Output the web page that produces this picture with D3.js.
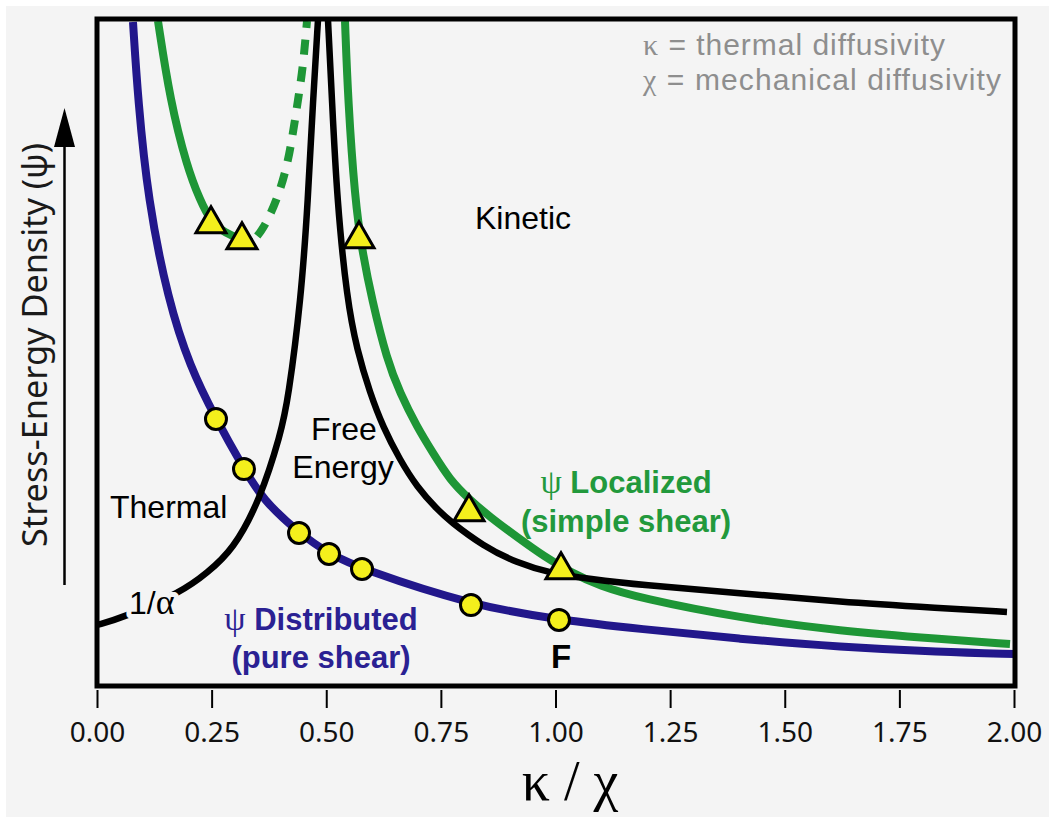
<!DOCTYPE html>
<html><head><meta charset="utf-8">
<script src="https://cdn.jsdelivr.net/npm/d3@7"></script>
<style>body{margin:0;background:#fff}svg{display:block}</style>
</head><body>
<svg id="chart" width="1049" height="818"></svg>
<script>
// ---- data (x = kappa/chi, y = stress-energy density psi, arbitrary units 0..10) ----
const xTicks = [0, 0.25, 0.5, 0.75, 1, 1.25, 1.5, 1.75, 2];
const xTickLabels = ["0.00","0.25","0.50","0.75","1.00","1.25","1.50","1.75","2.00"];

const distributedCurve = [
  [0.0785,9.955],[0.0894,8.786],[0.1112,7.286],[0.1549,5.787],[0.2028,4.783],
  [0.2595,4.003],[0.3206,3.253],[0.3621,2.789],[0.4406,2.294],[0.5060,1.979],
  [0.5780,1.754],[0.8157,1.214],[1.0076,0.990],[1.1843,0.855],[1.4024,0.705],
  [1.6205,0.585],[1.8386,0.510],[2.0022,0.480]
];
const distributedPoints = [
  [0.2595,4.003],[0.3206,3.253],[0.4406,2.294],[0.5060,1.979],
  [0.5780,1.754],[0.8157,1.214],[1.0076,0.990]
];
const localizedLeft = [
  [0.1330,9.970],[0.1592,8.786],[0.1963,7.781],[0.2246,7.286],[0.2486,6.957],
  [0.2792,6.792],[0.3162,6.687],[0.3381,6.657]
];
const localizedDashed = [
  [0.3381,6.657],[0.3621,6.837],[0.3926,7.286],[0.4144,7.781],[0.4275,8.291],
  [0.4384,8.786],[0.4493,9.280],[0.4580,9.970]
];
const localizedRight = [
  [0.5409,9.970],[0.5474,8.786],[0.5627,7.286],[0.5780,6.537],[0.5998,5.787],
  [0.6325,4.888],[0.6609,4.393],[0.6979,3.883],[0.7328,3.493],[0.7699,3.088],
  [0.8113,2.804],[0.8571,2.534],[0.9160,2.234],[0.9771,1.934],[1.0316,1.709],
  [1.0970,1.499],[1.1843,1.319],[1.4024,1.019],[1.6205,0.825],[1.8386,0.705],
  [1.9913,0.630]
];
const localizedPoints = [
  [0.2486,6.927],[0.3162,6.687],[0.5714,6.702],[0.8113,2.609],[1.0120,1.739]
];
const thermalCurve = [ // 1/alpha branch
  [0.0000,0.915],[0.0545,1.019],[0.1854,1.409],[0.2399,1.694],[0.2966,2.039],
  [0.3555,2.789],[0.4013,3.793],[0.4166,4.288],[0.4449,5.787],[0.4602,7.286],
  [0.4711,8.786],[0.4820,9.985]
];
const kineticCurve = [
  [0.5038,9.985],[0.5125,8.786],[0.5234,7.286],[0.5453,5.787],[0.5671,5.037],
  [0.5954,4.393],[0.6238,3.883],[0.6609,3.388],[0.6979,2.984],[0.7416,2.650],
  [0.7699,2.470],[0.8419,2.100],[0.9160,1.844],[0.9880,1.694],[1.0752,1.604],
  [1.1843,1.514],[1.4024,1.394],[1.6205,1.259],[1.8386,1.169],[1.9847,1.109]
];

// ---- colours ----
const BLUE = "#22178b", BLUE_TXT = "#2a2193";
const GREEN = "#1e9636", GREEN_TXT = "#22993c";
const YELLOW = "#f4ef1c";
const BG = "#f4f4f4";

const svg = d3.select("#chart");
const W = 1049, H = 818;
svg.append("rect").attr("x",6).attr("y",6).attr("width",W-6).attr("height",H-7).attr("fill",BG);

const x = d3.scaleLinear().domain([0,2]).range([97,1014]);
const y = d3.scaleLinear().domain([0,10]).range([686,19]);

const defs = svg.append("defs");
defs.append("clipPath").attr("id","plotclip").append("rect")
  .attr("x",x(0)).attr("y",y(10)).attr("width",x(2)-x(0)+1).attr("height",y(0)-y(10));

const line = d3.line().x(d=>x(d[0])).y(d=>y(d[1])).curve(d3.curveBasis);
const plot = svg.append("g").attr("clip-path","url(#plotclip)");

plot.append("path").datum(distributedCurve).attr("d",line)
  .attr("fill","none").attr("stroke",BLUE).attr("stroke-width",8);
plot.append("path").datum(localizedLeft).attr("d",line)
  .attr("fill","none").attr("stroke",GREEN).attr("stroke-width",8);
plot.append("path").datum(localizedRight).attr("d",line)
  .attr("fill","none").attr("stroke",GREEN).attr("stroke-width",8);
plot.append("path").datum(localizedDashed).attr("d",line)
  .attr("fill","none").attr("stroke",GREEN).attr("stroke-width",8)
  .attr("stroke-dasharray","15 12").attr("stroke-dashoffset",19);
plot.append("path").datum(thermalCurve).attr("d",line)
  .attr("fill","none").attr("stroke","#000").attr("stroke-width",6.5);
plot.append("path").datum(kineticCurve).attr("d",line)
  .attr("fill","none").attr("stroke","#000").attr("stroke-width",6.5);

// markers
const tri = d3.symbol().type(d3.symbolTriangle).size(390);
svg.append("g").selectAll("path").data(localizedPoints).join("path")
  .attr("d",tri).attr("transform",d=>`translate(${x(d[0])},${y(d[1])})`)
  .attr("fill",YELLOW).attr("stroke","#000").attr("stroke-width",3).attr("stroke-linejoin","miter");
svg.append("g").selectAll("circle").data(distributedPoints).join("circle")
  .attr("cx",d=>x(d[0])).attr("cy",d=>y(d[1])).attr("r",10.5)
  .attr("fill",YELLOW).attr("stroke","#000").attr("stroke-width",3);

// frame
svg.append("rect").attr("x",x(0)).attr("y",y(10)).attr("width",x(2)-x(0)+1).attr("height",y(0)-y(10))
  .attr("fill","none").attr("stroke","#000").attr("stroke-width",5);

// x axis
const axis = d3.axisBottom(x).tickValues(xTicks).tickSize(18)
  .tickFormat((d,i)=>xTickLabels[i]);
const gx = svg.append("g").attr("transform","translate(0,690)").call(axis);
gx.select(".domain").remove();
gx.selectAll(".tick line").attr("stroke","#000").attr("stroke-width",2);
gx.selectAll(".tick text").attr("y",52).attr("dy",0)
  .attr("font-family","'Noto Sans', 'Open Sans', sans-serif").attr("font-size",28).attr("fill","#111");

// axis title
svg.append("text").attr("x",570).attr("y",800).attr("text-anchor","middle")
  .attr("font-family","'Liberation Serif','DejaVu Serif',serif").attr("font-size",56).attr("fill","#000")
  .text("κ / χ");

// y title + arrow
svg.append("text").attr("transform","translate(47,345) rotate(-90)").attr("text-anchor","middle")
  .attr("font-family","'Noto Sans','Open Sans',sans-serif").attr("font-size",34).attr("fill","#1a1a1a")
  .attr("textLength",404).attr("lengthAdjust","spacingAndGlyphs")
  .text("Stress-Energy Density (ψ)");
svg.append("line").attr("x1",64.5).attr("x2",64.5).attr("y1",585).attr("y2",140)
  .attr("stroke","#000").attr("stroke-width",2.5);
svg.append("path").attr("d","M64.5,108 L54,147 L75,147 Z").attr("fill","#000");

// legend
const SANS = "'Liberation Sans', Arial, sans-serif";
const SERIF = "'Liberation Serif','DejaVu Serif',serif";
const leg = svg.append("g").attr("font-family",SANS).attr("font-size",30).attr("fill","#8e8e8e");
const l1 = leg.append("text").attr("x",643).attr("y",55)
  .attr("textLength",302).attr("lengthAdjust","spacing");
l1.append("tspan").attr("font-family",SERIF).text("κ");
l1.append("tspan").text(" = thermal diffusivity");
const l2 = leg.append("text").attr("x",643).attr("y",90)
  .attr("textLength",358).attr("lengthAdjust","spacing");
l2.append("tspan").attr("font-family",SERIF).text("χ");
l2.append("tspan").text(" = mechanical diffusivity");

// region labels
const lab = svg.append("g").attr("font-family",SANS).attr("font-size",32).attr("fill","#000");
lab.append("text").attr("x",475).attr("y",229).text("Kinetic");
lab.append("text").attr("x",344).attr("y",440).attr("text-anchor","middle").text("Free");
lab.append("text").attr("x",343).attr("y",478).attr("text-anchor","middle").text("Energy");
lab.append("text").attr("x",110).attr("y",518).text("Thermal");
const ia = lab.append("text").attr("x",129).attr("y",614)
  .attr("stroke",BG).attr("stroke-width",10).attr("paint-order","stroke").attr("stroke-linejoin","round");
ia.append("tspan").text("1/");
ia.append("tspan").attr("font-family",SERIF).attr("font-size",36).text("α");
lab.append("text").attr("x",561).attr("y",668).attr("text-anchor","middle")
  .attr("font-weight","bold").attr("font-size",33).text("F");

// series labels
const d1 = svg.append("text").attr("x",321).attr("y",630).attr("text-anchor","middle")
  .attr("font-family",SANS).attr("font-size",31).attr("font-weight","bold").attr("fill",BLUE_TXT);
d1.append("tspan").attr("font-family",SERIF).attr("font-weight","normal").attr("font-size",34).text("ψ");
d1.append("tspan").text(" Distributed");
svg.append("text").attr("x",321).attr("y",668).attr("text-anchor","middle")
  .attr("font-family",SANS).attr("font-size",31).attr("font-weight","bold").attr("fill",BLUE_TXT)
  .text("(pure shear)");
const g1 = svg.append("text").attr("x",626).attr("y",493).attr("text-anchor","middle")
  .attr("font-family",SANS).attr("font-size",31).attr("font-weight","bold").attr("fill",GREEN_TXT);
g1.append("tspan").attr("font-family",SERIF).attr("font-weight","normal").attr("font-size",34).text("ψ");
g1.append("tspan").text(" Localized");
svg.append("text").attr("x",626).attr("y",532).attr("text-anchor","middle")
  .attr("font-family",SANS).attr("font-size",31).attr("font-weight","bold").attr("fill",GREEN_TXT)
  .text("(simple shear)");
</script>
</body></html>
